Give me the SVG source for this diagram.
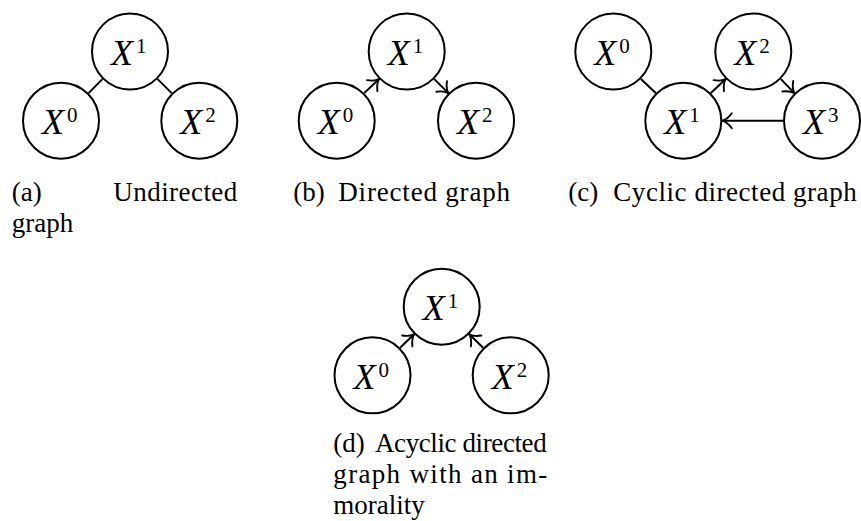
<svg xmlns="http://www.w3.org/2000/svg" width="861" height="521" viewBox="0 0 861 521">
<style>
.node circle{fill:#fff;stroke:#000;stroke-width:2}
.lbl{font-style:italic;font-size:36px;text-anchor:middle;fill:#000}
.sup{font-style:normal;font-size:21px}
.edge{stroke:#000;stroke-width:2;fill:none}
.arr{marker-end:url(#to)}
.cap{font-size:27px;fill:#000}
</style>
<defs>
<marker id="to" markerUnits="userSpaceOnUse" markerWidth="20" markerHeight="22" refX="12" refY="10" orient="auto" overflow="visible">
<path d="M 2.5 2.5 C 5.5 6.5, 8.5 9, 12 10 C 8.5 11, 5.5 13.5, 2.5 17.5" fill="none" stroke="#000" stroke-width="1.9" stroke-linecap="round"/>
</marker>
</defs>
<g id="connectors">
<line class="edge" x1="88.6" y1="93.1" x2="102.4" y2="79.1"/>
<line class="edge" x1="157.6" y1="79.1" x2="171.7" y2="93.1"/>
<line class="edge arr" x1="364.3" y1="93.1" x2="379.1" y2="79.1"/>
<line class="edge arr" x1="434.3" y1="79.1" x2="448.4" y2="93.1"/>
<line class="edge" x1="640.9" y1="79.1" x2="655.7" y2="93.1"/>
<line class="edge arr" x1="710.9" y1="93.1" x2="725.7" y2="79.1"/>
<line class="edge arr" x1="780.9" y1="79.1" x2="794.4" y2="93.1"/>
<line class="edge arr" x1="783" y1="120.7" x2="722.3" y2="120.7"/>
<line class="edge arr" x1="400.1" y1="347.7" x2="414.1" y2="334.3"/>
<line class="edge arr" x1="483.1" y1="347.7" x2="469.3" y2="334.3"/>
</g>
<g font-family="'Liberation Serif', 'Times New Roman', serif">
<g id="a-X1" class="node"><circle cx="130" cy="51.5" r="38"/><text class="lbl" x="128.7" y="65">X<tspan class="sup" dx="3" dy="-12">1</tspan></text></g>
<g id="a-X0" class="node"><circle cx="61" cy="120.7" r="38"/><text class="lbl" x="59.7" y="134.2">X<tspan class="sup" dx="3" dy="-12">0</tspan></text></g>
<g id="a-X2" class="node"><circle cx="199.3" cy="120.7" r="38"/><text class="lbl" x="198" y="134.2">X<tspan class="sup" dx="3" dy="-12">2</tspan></text></g>
<g id="b-X1" class="node"><circle cx="406.7" cy="51.5" r="38"/><text class="lbl" x="405.4" y="65">X<tspan class="sup" dx="3" dy="-12">1</tspan></text></g>
<g id="b-X0" class="node"><circle cx="336.7" cy="120.7" r="38"/><text class="lbl" x="335.4" y="134.2">X<tspan class="sup" dx="3" dy="-12">0</tspan></text></g>
<g id="b-X2" class="node"><circle cx="476" cy="120.7" r="38"/><text class="lbl" x="474.7" y="134.2">X<tspan class="sup" dx="3" dy="-12">2</tspan></text></g>
<g id="c-X0" class="node"><circle cx="613.3" cy="51.5" r="38"/><text class="lbl" x="612" y="65">X<tspan class="sup" dx="3" dy="-12">0</tspan></text></g>
<g id="c-X2" class="node"><circle cx="753.3" cy="51.5" r="38"/><text class="lbl" x="752" y="65">X<tspan class="sup" dx="3" dy="-12">2</tspan></text></g>
<g id="c-X1" class="node"><circle cx="683.3" cy="120.7" r="38"/><text class="lbl" x="682" y="134.2">X<tspan class="sup" dx="3" dy="-12">1</tspan></text></g>
<g id="c-X3" class="node"><circle cx="822" cy="120.7" r="38"/><text class="lbl" x="820.7" y="134.2">X<tspan class="sup" dx="3" dy="-12">3</tspan></text></g>
<g id="d-X1" class="node"><circle cx="441.7" cy="306.7" r="38"/><text class="lbl" x="440.4" y="320.2">X<tspan class="sup" dx="3" dy="-12">1</tspan></text></g>
<g id="d-X0" class="node"><circle cx="372.5" cy="375.3" r="38"/><text class="lbl" x="371.2" y="388.8">X<tspan class="sup" dx="3" dy="-12">0</tspan></text></g>
<g id="d-X2" class="node"><circle cx="510.7" cy="375.3" r="38"/><text class="lbl" x="509.4" y="388.8">X<tspan class="sup" dx="3" dy="-12">2</tspan></text></g>
<g id="captions">
<text class="cap" x="11.7" y="200.5">(a)</text>
<text class="cap" x="113.3" y="200.5" textLength="124" lengthAdjust="spacing">Undirected</text>
<text class="cap" x="11.7" y="231.5">graph</text>
<text class="cap" x="293.3" y="200.5">(b)</text>
<text class="cap" x="338.3" y="200.5" textLength="171.7" lengthAdjust="spacing">Directed graph</text>
<text class="cap" x="568.3" y="200.5">(c)</text>
<text class="cap" x="613.3" y="200.5" textLength="243.4" lengthAdjust="spacing">Cyclic directed graph</text>
<text class="cap" x="333.3" y="451.7">(d)</text>
<text class="cap" x="375" y="451.7" textLength="171.7" lengthAdjust="spacing">Acyclic directed</text>
<text class="cap" x="333.3" y="482.7" textLength="214" lengthAdjust="spacing">graph with an im-</text>
<text class="cap" x="333.3" y="513.5">morality</text>
</g>
</g>
</svg>
